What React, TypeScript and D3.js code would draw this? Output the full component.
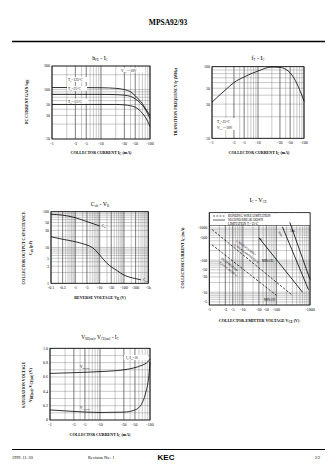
import React from 'react';
import * as d3 from 'd3';

// ---------- DATA ----------
// hFE - IC
const hfeIc = [1, 3, 10, 20, 30, 40, 50, 60, 70, 80, 100];
const hfe125 = [110, 110, 109, 106, 100, 90, 75, 62, 52, 42, 30];
const hfe25 = [80, 80, 80, 79, 77, 73, 65, 56, 48, 40, 26];
const hfeM25 = [50, 50, 50, 50, 49, 47, 44, 39, 33, 28, 18];
const hfeXTicks = [1, 3, 5, 10, 30, 50, 100];
const hfeYTicks = [10, 30, 50, 100, 300];

// fT - IC
const ftIc = [1, 2, 3, 5, 10, 20, 30, 40, 50, 60, 80, 100];
const ftVal = [32, 48, 60, 72, 87, 99, 98, 92, 82, 70, 48, 33];
const ftXTicks = [1, 3, 5, 10, 30, 50, 100];
const ftYTicks = [10, 30, 50, 100];

// Cob - VR
const cibV = [0.1, 0.3, 1, 3, 10];
const cibVal = [85, 80, 68, 53, 40];
const cobV = [0.1, 0.3, 1, 3, 5, 10, 20, 50, 100, 300, 500];
const cobVal = [20, 17, 14.5, 11.7, 10, 6.2, 3.6, 2.3, 1.7, 1.35, 1.25];
const capXTicks = [0.1, 0.3, 1, 3, 10, 30, 100, 300, 1000];
const capXLabels = ['-0.1', '-0.3', '-1', '-3', '-10', '-30', '-100', '-300', '-1k'];
const capYTicks = [1, 3, 5, 10, 30, 50, 100];

// IC - VCE (safe operating area)
const soaXTicks = [1, 3, 5, 10, 30, 50, 100, 1000];
const soaYTicks = [5, 10, 30, 50, 100, 500, 1000];
const bondA = [[1.2, 900], [300, 8]];
const bondB = [[1.2, 300], [100, 8]];
const sbDC = [[30, 500], [600, 10]];
const sb1ms = [[150, 1100], [900, 12]];
const sb100us = [[250, 1500], [1000, 25]];

// VCE(sat), VBE(sat) - IC
const satIc = [1, 3, 10, 30, 50, 70, 85, 90, 95, 100];
const vbeSat = [0.65, 0.66, 0.675, 0.7, 0.73, 0.765, 0.795, 0.81, 0.83, 0.85];
const vceSat = [0.14, 0.12, 0.105, 0.11, 0.14, 0.24, 0.42, 0.5, 0.62, 0.81];
const satXTicks = [1, 3, 5, 10, 30, 50, 100];
const satYTicks = [0, 0.2, 0.4, 0.6, 0.8, 1.0];

// ---------- HELPERS ----------
const SERIF = "'Liberation Serif','DejaVu Serif','Times New Roman',serif";

function logGrid(a: number, b: number) {
  const out: number[] = [];
  for (let e = Math.floor(Math.log10(a)) - 1; e <= Math.ceil(Math.log10(b)); e++) {
    for (let k = 1; k < 10; k++) {
      const v = k * Math.pow(10, e);
      if (v >= a * 0.999 && v <= b * 1.001) out.push(v);
    }
  }
  return out;
}

function neg(v: number) {
  return v === 0 ? '0' : '-' + v;
}

type FrameProps = {
  xs: any; ys: any;
  xGrid: number[]; yGrid: number[];
  xTicks: number[]; xLabels?: string[];
  yTicks: number[]; yLabels?: string[];
  top?: number;
};

function Frame({ xs, ys, xGrid, yGrid, xTicks, xLabels, yTicks, yLabels, top }: FrameProps) {
  const [x0, x1] = xs.range();
  const [y0, y1r] = ys.range();
  const y1 = top !== undefined ? top : y1r;
  return (
    <g>
      {xGrid.map((v, i) => (
        <line key={'gx' + i} x1={xs(v)} x2={xs(v)} y1={y0} y2={y1} stroke="#666" strokeWidth={0.35} />
      ))}
      {yGrid.map((v, i) => (
        <line key={'gy' + i} x1={x0} x2={x1} y1={ys(v)} y2={ys(v)} stroke="#666" strokeWidth={0.35} />
      ))}
      {xTicks.map((v, i) => (
        <line key={'mx' + i} x1={xs(v)} x2={xs(v)} y1={y0} y2={y1} stroke="#444" strokeWidth={0.5} />
      ))}
      <rect x={x0} y={y1} width={x1 - x0} height={y0 - y1} fill="none" stroke="#000" strokeWidth={0.8} />
      {xTicks.map((v, i) => (
        <text key={'tx' + i} x={xs(v)} y={y0 + 6} fontSize={4} textAnchor="middle" fontFamily={SERIF}>
          {xLabels ? xLabels[i] : neg(v)}
        </text>
      ))}
      {yTicks.map((v, i) => (
        <text key={'ty' + i} x={x0 - 2} y={ys(v) + 1.4} fontSize={4} textAnchor="end" fontFamily={SERIF}>
          {yLabels ? yLabels[i] : String(v)}
        </text>
      ))}
    </g>
  );
}

function AxisTitle({ x, y, rotate, children, size = 4 }: any) {
  return (
    <text
      x={x} y={y} fontSize={size} fontWeight="bold" textAnchor="middle" fontFamily={SERIF}
      transform={rotate ? `rotate(-90 ${x} ${y})` : undefined}
    >
      {children}
    </text>
  );
}

const Sub = ({ children, size = 3 }: any) => (
  <tspan fontSize={size} dy={1}>{children}</tspan>
);

export default function App() {
  // Chart 1
  const xs1 = d3.scaleLog().domain([1, 100]).range([52, 150]);
  const ys1 = d3.scaleLog().domain([10, 300]).range([139, 66]);
  const line1 = d3.line<number>().x((_, i) => xs1(hfeIc[i])).y((d) => ys1(d)).curve(d3.curveMonotoneX);

  // Chart 2
  const xs2 = d3.scaleLog().domain([1, 100]).range([212, 304]);
  const ys2 = d3.scaleLog().domain([10, 100]).range([138.3, 66.7]);
  const line2 = d3.line<number>().x((_, i) => xs2(ftIc[i])).y((d) => ys2(d)).curve(d3.curveMonotoneX);

  // Chart 3
  const xs3 = d3.scaleLog().domain([0.1, 1000]).range([51, 148.3]);
  const ys3 = d3.scaleLog().domain([1, 100]).range([283.3, 211.7]);
  const lineCib = d3.line<number>().x((_, i) => xs3(cibV[i])).y((d) => ys3(d)).curve(d3.curveMonotoneX);
  const lineCob = d3.line<number>().x((_, i) => xs3(cobV[i])).y((d) => ys3(d)).curve(d3.curveMonotoneX);

  // Chart 4
  const xs4 = d3.scaleLog().domain([1, 1000]).range([209.3, 310]);
  const ys4 = d3.scaleLog().domain([4, 1000]).range([305, 228]);
  const seg = (p: number[][]) => d3.line<number[]>().x((d) => xs4(d[0])).y((d) => ys4(d[1]))(p) || '';

  // Chart 5
  const xs5 = d3.scaleLog().domain([1, 100]).range([50, 150]);
  const ys5 = d3.scaleLinear().domain([0, 1]).range([420, 348.3]);
  const lineVbe = d3.line<number>().x((_, i) => xs5(satIc[i])).y((d) => ys5(d)).curve(d3.curveMonotoneX);
  const lineVce = d3.line<number>().x((_, i) => xs5(satIc[i])).y((d) => ys5(d)).curve(d3.curveMonotoneX);

  return (
    <svg width={336} height={475} viewBox="0 0 336 475"
      style={{ position: 'absolute', left: 0, top: 0, background: '#fff' }} fontFamily={SERIF}>
      <rect x={0} y={0} width={336} height={475} fill="#fff" />
      {/* header */}
      <text x={168} y={25} fontSize={7.5} fontWeight="bold" textAnchor="middle">MPSA92/93</text>
      <line x1={12} x2={325} y1={41.5} y2={41.5} stroke="#000" strokeWidth={1.3} />

      {/* Chart 1 hFE - IC */}
      <text x={100} y={60} fontSize={6} textAnchor="middle">h<Sub>FE</Sub><tspan dy={-1}> - I</tspan><Sub>C</Sub></text>
      <Frame xs={xs1} ys={ys1} xGrid={logGrid(1, 100)} yGrid={logGrid(10, 300)}
        xTicks={hfeXTicks} yTicks={hfeYTicks} />
      <path d={line1(hfe125) || ''} fill="none" stroke="#000" strokeWidth={0.8} />
      <path d={line1(hfe25) || ''} fill="none" stroke="#000" strokeWidth={0.8} />
      <path d={line1(hfeM25) || ''} fill="none" stroke="#000" strokeWidth={0.8} />
      <g fontSize={3.6}>
        <rect x={119} y={67.5} width={26} height={5} fill="#fff" />
        <text x={121} y={71.5}>V<Sub size={2.6}>CE</Sub><tspan dy={-1}>=-10V</tspan></text>
        <rect x={67} y={77} width={20} height={5} fill="#fff" />
        <text x={68} y={81}>T<Sub size={2.6}>a</Sub><tspan dy={-1}>=125°C</tspan></text>
        <rect x={67} y={86} width={20} height={5} fill="#fff" />
        <text x={68} y={90}>T<Sub size={2.6}>a</Sub><tspan dy={-1}>=25°C</tspan></text>
        <rect x={67} y={98.5} width={21} height={5} fill="#fff" />
        <text x={68} y={102.5}>T<Sub size={2.6}>a</Sub><tspan dy={-1}>=-25°C</tspan></text>
      </g>
      <AxisTitle x={28} y={102} rotate>DC CURRENT GAIN h<Sub>FE</Sub></AxisTitle>
      <AxisTitle x={101} y={154}>COLLECTOR CURRENT I<Sub>C</Sub><tspan dy={-1}>  (mA)</tspan></AxisTitle>

      {/* Chart 2 fT - IC */}
      <text x={258} y={60} fontSize={6} textAnchor="middle">f<Sub>T</Sub><tspan dy={-1}> - I</tspan><Sub>C</Sub></text>
      <Frame xs={xs2} ys={ys2} xGrid={logGrid(1, 100)} yGrid={logGrid(10, 100)}
        xTicks={ftXTicks} yTicks={ftYTicks} />
      <path d={line2(ftVal) || ''} fill="none" stroke="#000" strokeWidth={0.8} />
      <g fontSize={3.6}>
        <rect x={215} y={118} width={22} height={12} fill="#fff" />
        <text x={217} y={123}>T<Sub size={2.6}>a</Sub><tspan dy={-1}>=25°C</tspan></text>
        <text x={217} y={129}>V<Sub size={2.6}>CE</Sub><tspan dy={-1}>=-10V</tspan></text>
      </g>
      <AxisTitle x={177} y={102} rotate>TRANSITION FREQUENCY f<Sub>T</Sub><tspan dy={-1}>  (MHz)</tspan></AxisTitle>
      <AxisTitle x={259} y={154}>COLLECTOR CURRENT I<Sub>C</Sub><tspan dy={-1}>  (mA)</tspan></AxisTitle>

      {/* Chart 3 Cob - VR */}
      <text x={100} y={206} fontSize={6} textAnchor="middle">C<Sub>ob</Sub><tspan dy={-1}> - V</tspan><Sub>R</Sub></text>
      <Frame xs={xs3} ys={ys3} xGrid={logGrid(0.1, 1000)} yGrid={logGrid(1, 100)}
        xTicks={capXTicks} xLabels={capXLabels} yTicks={capYTicks} />
      <path d={lineCib(cibVal) || ''} fill="none" stroke="#000" strokeWidth={0.8} />
      <path d={lineCob(cobVal) || ''} fill="none" stroke="#000" strokeWidth={0.8} />
      <g fontSize={3.4}>
        <text x={xs3(10) + 2} y={ys3(40) + 1.5}>C<Sub size={2.4}>ib</Sub></text>
        <text x={xs3(500) + 2} y={ys3(1.25) + 1.5}>C<Sub size={2.4}>ob</Sub></text>
      </g>
      <AxisTitle x={25} y={248} rotate>COLLECTOR OUTPUT CAPACITANCE</AxisTitle>
      <AxisTitle x={32} y={248} rotate>C<Sub>ob</Sub><tspan dy={-1}>  (pF)</tspan></AxisTitle>
      <AxisTitle x={100} y={299}>REVERSE VOLTAGE V<Sub>R</Sub><tspan dy={-1}>  (V)</tspan></AxisTitle>

      {/* Chart 4 IC - VCE */}
      <text x={258} y={202} fontSize={6} textAnchor="middle">I<Sub>C</Sub><tspan dy={-1}> - V</tspan><Sub>CE</Sub></text>
      <Frame xs={xs4} ys={ys4} xGrid={logGrid(1, 1000)} yGrid={logGrid(4, 1000)}
        xTicks={soaXTicks} yTicks={soaYTicks} yLabels={soaYTicks.map(neg)} top={212.7} />
      <rect x={210} y={213.3} width={99.5} height={12} fill="#fff" />
      <line x1={209.3} x2={310} y1={225.5} y2={225.5} stroke="#000" strokeWidth={0.5} />
      <g fontSize={3.2}>
        <line x1={213} x2={225} y1={216} y2={216} stroke="#000" strokeWidth={0.6} strokeDasharray="2,1.2" />
        <text x={228} y={217.2}>BONDING WIRE LIMITATION</text>
        <line x1={213} x2={225} y1={220} y2={220} stroke="#000" strokeWidth={0.6} />
        <text x={228} y={221.2}>SECOND BREAK DOWN</text>
        <text x={228} y={225}>LIMITATION T<Sub size={2.2}>a</Sub><tspan dy={-1}>=25°C</tspan></text>
      </g>
      <path d={seg(bondA)} fill="none" stroke="#000" strokeWidth={0.7} strokeDasharray="2.5,1.5" />
      <path d={seg(bondB)} fill="none" stroke="#000" strokeWidth={0.7} strokeDasharray="2.5,1.5" />
      <path d={seg(sbDC)} fill="none" stroke="#000" strokeWidth={0.8} />
      <path d={seg(sb1ms)} fill="none" stroke="#000" strokeWidth={0.8} />
      <path d={seg(sb100us)} fill="none" stroke="#000" strokeWidth={0.8} />
      <g fontSize={2.8}>
        <text transform="translate(236,241) rotate(38)">I<Sub size={2}>C</Sub><tspan dy={-1}> MAX (PULSED)*</tspan></text>
        <text transform="translate(234,245) rotate(38)">I<Sub size={2}>C</Sub><tspan dy={-1}> MAX (CONTINUOUS)</tspan></text>
        <text transform="translate(221,259) rotate(38)">DC OPERATION</text>
        <text transform="translate(219,263) rotate(38)">T<Sub size={2}>a</Sub><tspan dy={-1}>=25°C (NOTE 1)</tspan></text>
        <text transform="translate(259,239) rotate(45)">DC</text>
        <text transform="translate(278,232) rotate(55)">10ms</text>
      </g>
      <g fontSize={3}>
        <text x={262} y={262}>MPSA92</text>
        <text x={264} y={301}>MPSA93</text>
        <text x={290} y={232}>1ms</text>
      </g>
      <AxisTitle x={184} y={258} rotate>COLLECTOR CURRENT I<Sub>C</Sub><tspan dy={-1}>  (mA)</tspan></AxisTitle>
      <AxisTitle x={259} y={322}>COLLECTOR-EMITTER VOLTAGE V<Sub>CE</Sub><tspan dy={-1}>  (V)</tspan></AxisTitle>

      {/* Chart 5 sat */}
      <text x={100} y={339} fontSize={5.5} textAnchor="middle">V<Sub>BE(sat)</Sub><tspan dy={-1}>, V</tspan><Sub>CE(sat)</Sub><tspan dy={-1}> - I</tspan><Sub>C</Sub></text>
      <Frame xs={xs5} ys={ys5} xGrid={logGrid(1, 100)} yGrid={d3.range(0, 1.01, 0.1)}
        xTicks={satXTicks} yTicks={satYTicks} yLabels={satYTicks.map((v) => (v === 0 ? '0' : v.toFixed(1)))} />
      <path d={lineVbe(vbeSat) || ''} fill="none" stroke="#000" strokeWidth={0.8} />
      <path d={lineVce(vceSat) || ''} fill="none" stroke="#000" strokeWidth={0.8} />
      <g fontSize={3.4}>
        <text x={80} y={368}>V<Sub size={2.4}>BE(sat)</Sub></text>
        <text x={80} y={409}>V<Sub size={2.4}>CE(sat)</Sub></text>
        <rect x={124} y={355} width={24} height={5} fill="#fff" />
        <text x={126} y={359}>I<Sub size={2.4}>C</Sub><tspan dy={-1}>/I</tspan><Sub size={2.4}>B</Sub><tspan dy={-1}>=10</tspan></text>
      </g>
      <AxisTitle x={25} y={385} rotate>SATURATION VOLTAGE</AxisTitle>
      <AxisTitle x={32} y={385} rotate>V<Sub>BE(sat)</Sub><tspan dy={-1}>, V</tspan><Sub>CE(sat)</Sub><tspan dy={-1}>  (V)</tspan></AxisTitle>
      <AxisTitle x={100} y={436}>COLLECTOR CURRENT I<Sub>C</Sub><tspan dy={-1}>  (mA)</tspan></AxisTitle>

      {/* footer */}
      <line x1={12} x2={325} y1={449.5} y2={449.5} stroke="#000" strokeWidth={1.2} />
      <text x={12} y={459} fontSize={4.2}>1999. 11. 30</text>
      <text x={88} y={459} fontSize={4.2}>Revision No : 1</text>
      <text x={166} y={460} fontSize={8} fontWeight="bold" textAnchor="middle" fontFamily="'Liberation Sans',Arial,sans-serif">KEC</text>
      <text x={320} y={459} fontSize={4.2} textAnchor="end">2/2</text>
    </svg>
  );
}
